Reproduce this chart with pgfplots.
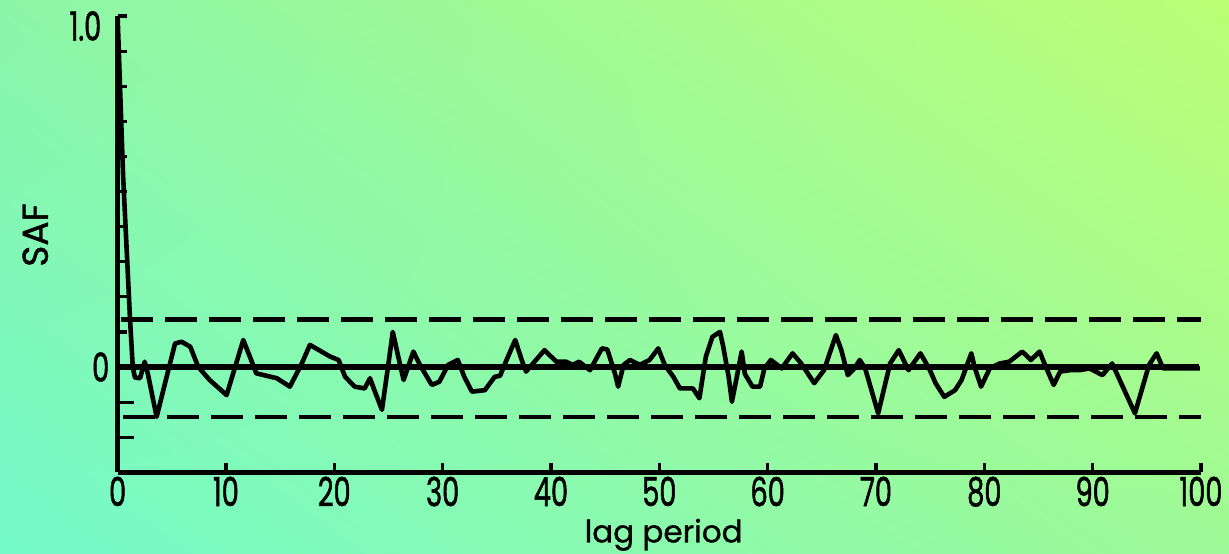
\documentclass[border=0pt]{standalone}
\usepackage{fontspec}
\setmainfont{Poppins}
\newfontfamily\tickfont[FakeStretch=0.68,FakeBold=1.2]{Poppins}
\newfontfamily\labfont[FakeBold=1.0]{Poppins}
\usepackage{pgfplots}
\usetikzlibrary{shadings}
\pgfplotsset{compat=1.18}
\definecolor{bgLL}{RGB}{116,250,202}
\definecolor{bgUL}{RGB}{140,246,168}
\definecolor{bgUR}{RGB}{188,255,118}
\definecolor{bgLR}{RGB}{158,250,150}
\begin{document}
\begin{tikzpicture}[x=1pt,y=1pt]
\shade[lower left=bgLL, upper left=bgUL, upper right=bgUR, lower right=bgLR] (0,0) rectangle (614.5,276.5);
\begin{axis}[
  at={(58.8pt,40.35pt)}, anchor=south west,
  scale only axis, width=541.7pt, height=228.15pt,
  xmin=0, xmax=100, ymin=-0.3, ymax=1.0,
  axis x line*=bottom, axis y line*=left,
  x axis line style={-}, y axis line style={-},
  axis line style={black, line width=2.5pt},
  clip=false,
  tick align=inside,
  major tick length=4.5pt,
  tick style={black, line width=1.6pt},
  xtick={0,10,20,30,40,50,60,70,80,90,100},
  xticklabels={0,10,20,30,40,50,60,70,80,90,100},
  ytick={0,0.1,0.2,0.3,0.4,0.5,0.6,0.7,0.8,0.9,1.0},
  yticklabels={0,,,,,,,,,,},
  extra y ticks={-0.1,-0.2},
  extra y tick labels={},
  extra y tick style={major tick length=8pt},
  tick label style={font=\tickfont\fontsize{20}{20}\selectfont, text=black, inner sep=1pt},
  xticklabel style={yshift=-1pt},
  yticklabel style={xshift=-3pt},
  xlabel={lag period},
  xlabel style={at={(axis description cs:0.504,-0.137)}, anchor=center, inner sep=0pt, font=\labfont\fontsize{15.5}{15.5}\selectfont},
  ylabel={SAF},
  ylabel style={at={(axis description cs:-0.076,0.52)}, anchor=center, font=\labfont\fontsize{18}{18}\selectfont},
]
\addplot[black, line width=2.8pt, dash pattern=on 16pt off 6pt] coordinates {(0.3,0.135) (100,0.135)};
\addplot[black, line width=2.0pt, dash pattern=on 16pt off 6pt] coordinates {(0.5,-0.142) (100,-0.142)};
\addplot[black, line width=2.8pt] coordinates {(0,0) (99.8,0)};
\addplot[black, line width=2.3pt, line join=round] coordinates {
(0,1.0) (0.5,0.55) (1.15,0.134) (1.4,0.0) (1.6,-0.03) (2.07,-0.032) (2.5,0.015) (2.8,-0.02)
(3.6,-0.142) (5.3,0.067) (5.9,0.072) (6.7,0.058) (7.45,0.0) (8.5,-0.037) (10.06,-0.08)
(11.6,0.077) (12.2,0.03) (12.8,-0.018) (14.7,-0.032) (15.9,-0.056) (17.0,0.01) (17.75,0.063)
(19.1,0.039) (19.6,0.03) (20.4,0.02) (21.0,-0.028) (21.9,-0.056) (22.8,-0.061) (23.3,-0.032)
(23.7,-0.066) (24.4,-0.122) (25.0,0.01) (25.4,0.10) (25.9,0.03) (26.4,-0.037) (27.3,0.044)
(27.9,0.006) (29.0,-0.051) (29.7,-0.042) (30.5,0.006) (31.4,0.02) (32.0,-0.028) (32.7,-0.07)
(33.9,-0.066) (34.8,-0.028) (35.3,-0.025) (35.9,0.02) (36.7,0.077) (37.3,0.02) (37.7,-0.013)
(39.4,0.048) (40.5,0.015) (41.4,0.015) (42.0,0.006) (42.6,0.015) (43.6,-0.009) (44.7,0.053)
(45.2,0.05) (45.9,-0.018) (46.2,-0.056) (46.7,0.006) (47.3,0.02) (48.2,0.006) (49.1,0.02)
(49.9,0.053) (50.5,0.006) (51.3,-0.028) (51.9,-0.061) (53.1,-0.061) (53.7,-0.089) (54.3,0.03)
(54.9,0.086) (55.6,0.10) (55.9,0.058) (56.4,-0.028) (56.7,-0.099) (57.1,-0.037) (57.6,0.044)
(57.9,-0.02) (58.6,-0.056) (59.3,-0.056) (59.7,-0.004) (60.3,0.02) (61.3,-0.004) (62.3,0.039)
(63.1,0.01) (64.3,-0.046) (65.2,-0.009) (66.3,0.091) (66.8,0.048) (67.4,-0.023) (68.0,-0.004)
(68.5,0.02) (69.0,-0.004) (70.2,-0.132) (71.3,0.01) (72.1,0.048) (73.0,-0.009) (74.1,0.039)
(74.9,-0.004) (75.5,-0.046) (76.3,-0.085) (77.3,-0.066) (77.9,-0.037) (78.8,0.039) (79.1,0.0)
(79.7,-0.056) (80.5,-0.004) (81.4,0.01) (82.3,0.015) (83.5,0.044) (84.3,0.02) (85.1,0.044)
(85.6,0.006) (86.4,-0.051) (87.0,-0.013) (87.9,-0.009) (88.8,-0.009) (89.7,-0.004) (90.9,-0.023)
(91.8,0.01) (93.9,-0.132) (95.2,0.006) (95.9,0.039) (96.5,-0.004) (97.1,-0.004) (98.3,-0.004)
(99.9,-0.004)
};
\node[anchor=east, font=\tickfont\fontsize{20}{20}\selectfont, inner sep=0pt] at ([xshift=-8pt,yshift=-5pt]axis cs:0,1.0) {1.0};
\end{axis}
\pgfresetboundingbox
\path (0,0) rectangle (614.5,276.5);
\end{tikzpicture}
\end{document}
